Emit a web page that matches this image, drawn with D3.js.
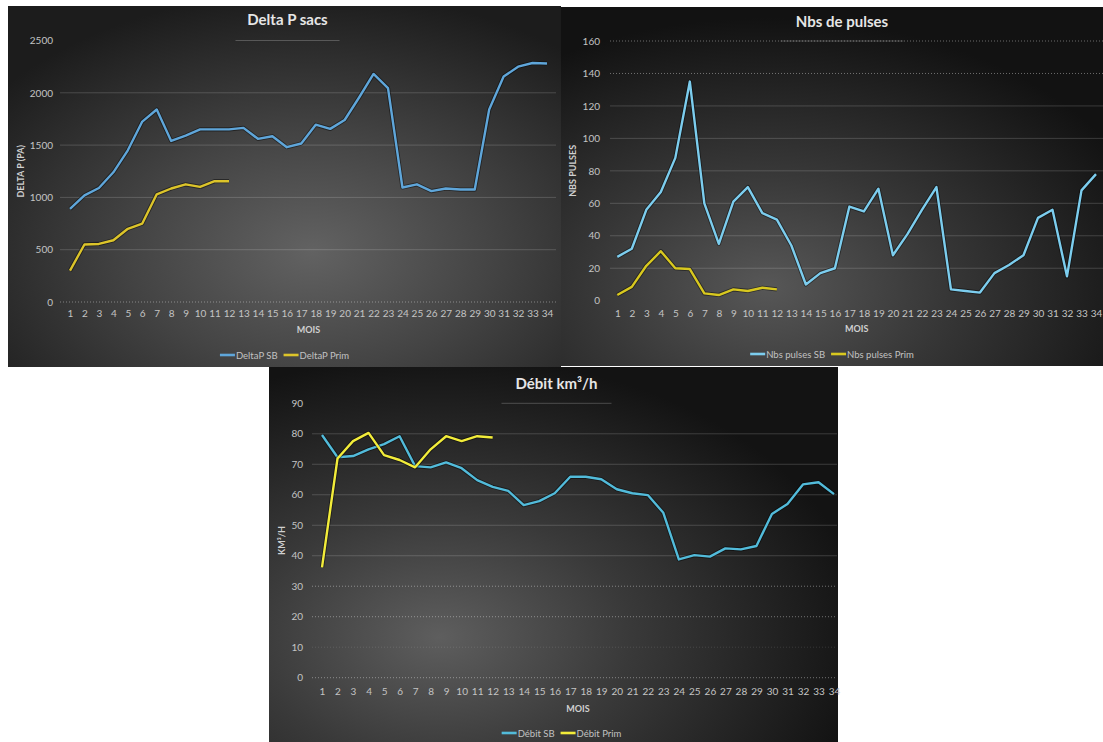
<!DOCTYPE html>
<html>
<head>
<meta charset="utf-8">
<script src="https://cdn.jsdelivr.net/npm/d3@7"></script>
<style>
  html, body { margin: 0; padding: 0; background: #ffffff; }
  svg { display: block; font-family: Lato, "Open Sans", "DejaVu Sans", sans-serif; }
</style>
</head>
<body>
<svg id="board" width="1103" height="742"></svg>
<script>
// Months on the x axis
const months = [1, 2, 3, 4, 5, 6, 7, 8, 9, 10, 11, 12, 13, 14, 15, 16, 17, 18, 19, 20,
                21, 22, 23, 24, 25, 26, 27, 28, 29, 30, 31, 32, 33, 34];
const primMonths = [1, 2, 3, 4, 5, 6, 7, 8, 9, 10, 11, 12];

// Delta P sacs (Pa)
const deltaPSB = [890, 1020, 1090, 1240, 1450, 1725, 1840, 1540, 1590, 1650, 1650, 1650, 1665,
                  1560, 1585, 1480, 1515, 1695, 1655, 1740, 1955, 2180, 2045, 1095, 1125, 1060,
                  1085, 1075, 1075, 1840, 2155, 2250, 2285, 2280];
const deltaPPrim = [300, 550, 555, 590, 700, 750, 1030, 1085, 1125, 1100, 1155, 1155];
const deltaPTicks = [0, 500, 1000, 1500, 2000, 2500];

// Nombre de pulses
const pulsesSB = [27, 32, 56, 67, 88, 135, 60, 35, 61, 70, 54, 50, 34, 10, 17, 20, 58, 55, 69,
                  28, 41, 56, 70, 7, 6, 5, 17, 22, 28, 51, 56, 15, 68, 78];
const pulsesPrim = [3.5, 8.5, 21.5, 30.5, 20, 19.5, 4.5, 3.5, 7, 6, 8, 7];
const pulsesTicks = [0, 20, 40, 60, 80, 100, 120, 140, 160];

// Débit (km³/h)
const debitSB = [79.6, 72.3, 72.7, 74.9, 76.6, 79.2, 69.4, 69.0, 70.6, 68.7, 64.8, 62.6, 61.3,
                 56.6, 57.9, 60.5, 65.9, 65.9, 65.1, 61.8, 60.5, 59.9, 54.1, 38.8, 40.2, 39.7,
                 42.4, 42.1, 43.2, 53.7, 57.0, 63.4, 64.1, 60.2];
const debitPrim = [36.2, 71.9, 77.6, 80.3, 73.0, 71.4, 69.0, 74.9, 79.2, 77.6, 79.2, 78.8];
const debitTicks = [0, 10, 20, 30, 40, 50, 60, 70, 80, 90];

// Layout and styling of each chart panel
const charts = [
  {
    key: "dp", title: "Delta P sacs", axisTitle: "DELTA P (PA)",
    panel: { x: 8, y: 6, w: 553, h: 361 },
    grad: { cx: "55%", cy: "68%", r: "72%", stops: ["#626262", "#444444", "#1c1c1c"] },
    xRange: [70, 547], yRange: [302, 40.5], ticks: deltaPTicks,
    gridX: [60, 556], tickLabelX: 53, xLabelY: 318, moisY: 333,
    titleY: 25, underline: 104, axisTitleX: 24, legendY: 355,
    dotted: [0], hidden: [2500], faint: [],
    sb: { name: "DeltaP SB", values: deltaPSB, color: "#5fa6da" },
    prim: { name: "DeltaP Prim", values: deltaPPrim, color: "#dcc42a" }
  },
  {
    key: "np", title: "Nbs de pulses", axisTitle: "NBS PULSES",
    panel: { x: 561, y: 7, w: 542, h: 359 },
    grad: { cx: "38%", cy: "78%", r: "75%", stops: ["#575757", "#363636", "#121212"] },
    xRange: [617.3, 1096], yRange: [300.7, 41], ticks: pulsesTicks,
    gridX: [610, 1103], tickLabelX: 600, xLabelY: 318, moisY: 332,
    titleY: 27, underline: 123, axisTitleX: 576, legendY: 354,
    dotted: [140, 160], hidden: [0], faint: [],
    sb: { name: "Nbs pulses SB", values: pulsesSB, color: "#7ccdee" },
    prim: { name: "Nbs pulses Prim", values: pulsesPrim, color: "#d8c81f" }
  },
  {
    key: "db", title: "Débit km³/h", axisTitle: "KM³/H",
    panel: { x: 269, y: 367, w: 569, h: 375 },
    grad: { cx: "30%", cy: "72%", r: "75%", stops: ["#5e5e5e", "#393939", "#131313"] },
    xRange: [322, 834], yRange: [677.7, 403.3], ticks: debitTicks,
    gridX: [312, 837], tickLabelX: 303, xLabelY: 696, moisY: 712,
    titleY: 389, underline: 110, axisTitleX: 285, legendY: 733,
    dotted: [0, 20, 30], hidden: [90], faint: [10],
    sb: { name: "Débit SB", values: debitSB, color: "#52bbda" },
    prim: { name: "Débit Prim", values: debitPrim, color: "#f2ec3a" }
  }
];

const svg = d3.select("#board");
const defs = svg.append("defs");

charts.forEach(cfg => {
  const p = cfg.panel;
  const g = svg.append("g").attr("class", "chart-" + cfg.key);

  // Dark radial background
  const gid = "bg-" + cfg.key;
  const rg = defs.append("radialGradient").attr("id", gid)
    .attr("cx", cfg.grad.cx).attr("cy", cfg.grad.cy).attr("r", cfg.grad.r);
  ["0%", "45%", "100%"].forEach((o, i) =>
    rg.append("stop").attr("offset", o).attr("stop-color", cfg.grad.stops[i]));
  g.append("rect").attr("x", p.x).attr("y", p.y).attr("width", p.w).attr("height", p.h)
    .attr("fill", `url(#${gid})`);

  const x = d3.scalePoint().domain(months).range(cfg.xRange);
  const y = d3.scaleLinear().domain(d3.extent(cfg.ticks)).range(cfg.yRange);

  // Horizontal gridlines
  const grid = g.append("g").attr("class", "grid");
  cfg.ticks.forEach(t => {
    if (cfg.hidden.includes(t)) return;
    const line = grid.append("line")
      .attr("x1", cfg.gridX[0]).attr("x2", cfg.gridX[1])
      .attr("y1", y(t)).attr("y2", y(t));
    if (cfg.dotted.includes(t)) {
      line.attr("stroke", "rgba(255,255,255,0.38)").attr("stroke-width", 1)
        .attr("stroke-dasharray", "1,2");
    } else if (cfg.faint.includes(t)) {
      line.attr("stroke", "rgba(255,255,255,0.12)").attr("stroke-width", 1)
        .attr("stroke-dasharray", "1,2");
    } else {
      line.attr("stroke", "rgba(255,255,255,0.17)").attr("stroke-width", 1);
    }
  });

  // Title and the short rule beneath it
  const titleX = p.x + p.w / 2 + (cfg.key === "np" ? 10 : 3);
  g.append("text").attr("x", titleX).attr("y", cfg.titleY)
    .attr("text-anchor", "middle").attr("fill", "#e6e6e6")
    .attr("font-size", 15).attr("font-weight", 700).text(cfg.title);
  const topY = y(d3.max(cfg.ticks));
  g.append("line")
    .attr("x1", titleX - cfg.underline / 2).attr("x2", titleX + cfg.underline / 2)
    .attr("y1", topY).attr("y2", topY)
    .attr("stroke", "rgba(255,255,255,0.22)").attr("stroke-width", 1);

  // Y axis
  const yAxis = d3.axisLeft(y).tickValues(cfg.ticks).tickFormat(d3.format("d"))
    .tickSize(0).tickPadding(0);
  const ya = g.append("g").attr("transform", `translate(${cfg.tickLabelX},0)`).call(yAxis);
  ya.select(".domain").remove();
  ya.selectAll("text").attr("fill", "#c4c4c4").attr("font-size", 10)
    .attr("font-family", "Lato, 'Open Sans', sans-serif");

  // X axis
  const xAxis = d3.axisBottom(x).tickSize(0).tickPadding(0);
  const xa = g.append("g").attr("transform", `translate(0,${cfg.xLabelY - 8})`).call(xAxis);
  xa.select(".domain").remove();
  xa.selectAll("text").attr("fill", "#c4c4c4").attr("font-size", 10)
    .attr("font-family", "Lato, 'Open Sans', sans-serif");

  // Axis titles
  g.append("text").attr("x", (cfg.xRange[0] + cfg.xRange[1]) / 2).attr("y", cfg.moisY)
    .attr("text-anchor", "middle").attr("fill", "#d0d0d0")
    .attr("font-size", 9).attr("font-weight", 700).text("MOIS");
  const ay = (cfg.yRange[0] + cfg.yRange[1]) / 2;
  g.append("text")
    .attr("transform", `translate(${cfg.axisTitleX},${ay}) rotate(-90)`)
    .attr("text-anchor", "middle").attr("fill", "#d0d0d0")
    .attr("font-size", 9).attr("font-weight", 700).text(cfg.axisTitle);

  // Series lines
  const line = d3.line().x(d => x(d.m)).y(d => y(d.v));
  [
    { s: cfg.sb, m: months },
    { s: cfg.prim, m: primMonths }
  ].forEach(({ s, m }) => {
    const pts = s.values.map((v, i) => ({ m: m[i], v }));
    g.append("path").datum(pts).attr("d", line)
      .attr("fill", "none").attr("stroke", "rgba(0,0,0,0.45)")
      .attr("stroke-width", 4.2).attr("stroke-linejoin", "round");
    g.append("path").datum(pts).attr("d", line)
      .attr("fill", "none").attr("stroke", s.color)
      .attr("stroke-width", 2.4).attr("stroke-linejoin", "round");
  });

  // Legend centred under the plot
  const lg = g.append("g");
  let cursor = 0;
  [cfg.sb, cfg.prim].forEach((s, i) => {
    const item = lg.append("g").attr("transform", `translate(${cursor},0)`);
    item.append("line").attr("x1", 0).attr("x2", 15).attr("y1", 0).attr("y2", 0)
      .attr("stroke", s.color).attr("stroke-width", 2.6);
    const t = item.append("text").attr("x", 16).attr("y", 3.5)
      .attr("fill", "#c2c2c2").attr("font-size", 9.5).text(s.name);
    cursor += 16 + t.node().getComputedTextLength() + (i === 0 ? 6 : 0);
  });
  const legendCx = p.x + p.w / 2 + (cfg.key === "db" ? 8 : 0);
  lg.attr("transform", `translate(${legendCx - cursor / 2},${cfg.legendY})`);
});
</script>
</body>
</html>
